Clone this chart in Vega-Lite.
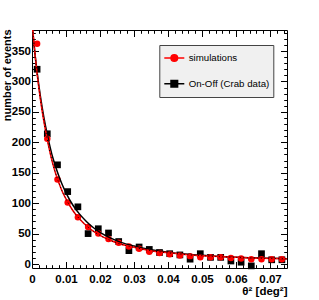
{
  "$schema": "https://vega.github.io/schema/vega-lite/v6.json",
  "width": 255,
  "height": 238,
  "autosize": "none",
  "padding": {"left": 32, "top": 30, "right": 32, "bottom": 32},
  "background": "white",
  "datasets": {
    "onoff": [
      {"x": 0.0015, "y": 320, "series": "On-Off (Crab data)"},
      {"x": 0.0045, "y": 214, "series": "On-Off (Crab data)"},
      {"x": 0.0075, "y": 163, "series": "On-Off (Crab data)"},
      {"x": 0.0105, "y": 119, "series": "On-Off (Crab data)"},
      {"x": 0.0135, "y": 94, "series": "On-Off (Crab data)"},
      {"x": 0.0165, "y": 50, "series": "On-Off (Crab data)"},
      {"x": 0.0195, "y": 58, "series": "On-Off (Crab data)"},
      {"x": 0.0225, "y": 51, "series": "On-Off (Crab data)"},
      {"x": 0.0255, "y": 37, "series": "On-Off (Crab data)"},
      {"x": 0.0285, "y": 22, "series": "On-Off (Crab data)"},
      {"x": 0.0315, "y": 28, "series": "On-Off (Crab data)"},
      {"x": 0.0345, "y": 24, "series": "On-Off (Crab data)"},
      {"x": 0.0375, "y": 19, "series": "On-Off (Crab data)"},
      {"x": 0.0405, "y": 17, "series": "On-Off (Crab data)"},
      {"x": 0.0435, "y": 15, "series": "On-Off (Crab data)"},
      {"x": 0.0465, "y": 8, "series": "On-Off (Crab data)"},
      {"x": 0.0495, "y": 17, "series": "On-Off (Crab data)"},
      {"x": 0.0525, "y": 11, "series": "On-Off (Crab data)"},
      {"x": 0.0555, "y": 11, "series": "On-Off (Crab data)"},
      {"x": 0.0585, "y": 5, "series": "On-Off (Crab data)"},
      {"x": 0.0615, "y": 3, "series": "On-Off (Crab data)"},
      {"x": 0.0645, "y": -3, "series": "On-Off (Crab data)"},
      {"x": 0.0675, "y": 17, "series": "On-Off (Crab data)"},
      {"x": 0.0705, "y": 7, "series": "On-Off (Crab data)"},
      {"x": 0.0735, "y": 7, "series": "On-Off (Crab data)"}
    ],
    "sim": [
      {"x": 0.0015, "y": 362, "series": "simulations"},
      {"x": 0.0045, "y": 206, "series": "simulations"},
      {"x": 0.0075, "y": 139, "series": "simulations"},
      {"x": 0.0105, "y": 101, "series": "simulations"},
      {"x": 0.0135, "y": 77, "series": "simulations"},
      {"x": 0.0165, "y": 61, "series": "simulations"},
      {"x": 0.0195, "y": 50, "series": "simulations"},
      {"x": 0.0225, "y": 41, "series": "simulations"},
      {"x": 0.0255, "y": 35, "series": "simulations"},
      {"x": 0.0285, "y": 29, "series": "simulations"},
      {"x": 0.0315, "y": 25, "series": "simulations"},
      {"x": 0.0345, "y": 20, "series": "simulations"},
      {"x": 0.0375, "y": 18, "series": "simulations"},
      {"x": 0.0405, "y": 16, "series": "simulations"},
      {"x": 0.0435, "y": 14, "series": "simulations"},
      {"x": 0.0465, "y": 13, "series": "simulations"},
      {"x": 0.0495, "y": 11, "series": "simulations"},
      {"x": 0.0525, "y": 11, "series": "simulations"},
      {"x": 0.0555, "y": 11, "series": "simulations"},
      {"x": 0.0585, "y": 10, "series": "simulations"},
      {"x": 0.0615, "y": 9, "series": "simulations"},
      {"x": 0.0645, "y": 8, "series": "simulations"},
      {"x": 0.0675, "y": 8, "series": "simulations"},
      {"x": 0.0705, "y": 8, "series": "simulations"},
      {"x": 0.0735, "y": 8, "series": "simulations"}
    ],
    "fitData": [
      {"x": 0, "y": 395}, {"x": 0.001, "y": 339}, {"x": 0.002, "y": 294}, {"x": 0.003, "y": 257},
      {"x": 0.004, "y": 226}, {"x": 0.005, "y": 200}, {"x": 0.006, "y": 177}, {"x": 0.007, "y": 159},
      {"x": 0.008, "y": 143}, {"x": 0.009, "y": 129}, {"x": 0.010, "y": 117}, {"x": 0.012, "y": 97},
      {"x": 0.014, "y": 82}, {"x": 0.016, "y": 70}, {"x": 0.018, "y": 60}, {"x": 0.020, "y": 52},
      {"x": 0.023, "y": 43}, {"x": 0.026, "y": 36}, {"x": 0.030, "y": 29.6}, {"x": 0.035, "y": 23.6},
      {"x": 0.040, "y": 19.5}, {"x": 0.045, "y": 16.5}, {"x": 0.050, "y": 14.3}, {"x": 0.055, "y": 12.6},
      {"x": 0.060, "y": 11.3}, {"x": 0.065, "y": 10.3}, {"x": 0.070, "y": 9.5}, {"x": 0.075, "y": 8.9}
    ],
    "fitSim": [
      {"x": 0, "y": 398}, {"x": 0.001, "y": 338}, {"x": 0.002, "y": 290}, {"x": 0.003, "y": 251},
      {"x": 0.004, "y": 219}, {"x": 0.005, "y": 191}, {"x": 0.006, "y": 167}, {"x": 0.007, "y": 148},
      {"x": 0.008, "y": 132}, {"x": 0.009, "y": 118}, {"x": 0.010, "y": 107}, {"x": 0.012, "y": 88},
      {"x": 0.014, "y": 74}, {"x": 0.016, "y": 63}, {"x": 0.018, "y": 54}, {"x": 0.020, "y": 47},
      {"x": 0.023, "y": 39}, {"x": 0.026, "y": 33}, {"x": 0.030, "y": 27.5}, {"x": 0.035, "y": 22},
      {"x": 0.040, "y": 18.5}, {"x": 0.045, "y": 15.8}, {"x": 0.050, "y": 13.8}, {"x": 0.055, "y": 12.2},
      {"x": 0.060, "y": 11}, {"x": 0.065, "y": 10}, {"x": 0.070, "y": 9.3}, {"x": 0.075, "y": 8.7}
    ]
  },
  "config": {
    "view": {"stroke": "black", "strokeWidth": 1},
    "axis": {
      "grid": false,
      "domain": false,
      "labelFont": "Liberation Sans",
      "labelFontWeight": "bold",
      "labelFontSize": 11.5,
      "labelColor": "black",
      "tickColor": "black",
      "tickWidth": 1,
      "titleColor": "black",
      "labelFlush": false,
      "labelOverlap": false
    }
  },
  "layer": [
    {
      "data": {"name": "onoff"},
      "mark": {"type": "point", "shape": "square", "filled": true, "size": 45, "opacity": 1},
      "encoding": {
        "x": {
          "field": "x", "type": "quantitative",
          "scale": {"domain": [0, 0.075], "nice": false, "zero": false},
          "axis": {
            "orient": "bottom",
            "values": [0, 0.01, 0.02, 0.03, 0.04, 0.05, 0.06, 0.07],
            "ticks": false,
            "labelPadding": 5,
            "labelExpr": "datum.value == 0 ? '0' : format(datum.value, '.2f')",
            "title": "θ² [deg²]",
            "titleX": 255,
            "titleY": 26,
            "titleAlign": "right",
            "titleBaseline": "alphabetic",
            "titleFont": "Liberation Sans",
            "titleFontSize": 11.5,
            "titleFontWeight": "bold"
          }
        },
        "y": {
          "field": "y", "type": "quantitative",
          "scale": {"domain": [-6.5, 384.5], "nice": false, "zero": false},
          "axis": {
            "orient": "left",
            "values": [0, 50, 100, 150, 200, 250, 300, 350],
            "ticks": false,
            "labelPadding": 1.5,
            "title": "number of events",
            "titleX": -21.5,
            "titleY": -1,
            "titleAngle": 270,
            "titleAlign": "right",
            "titleBaseline": "alphabetic",
            "titleFont": "Liberation Sans",
            "titleFontSize": 11,
            "titleFontWeight": "bold"
          }
        },
        "color": {
          "field": "series", "type": "nominal",
          "scale": {"domain": ["simulations", "On-Off (Crab data)"], "range": ["#ff0000", "#000000"]},
          "legend": {
            "orient": "none",
            "legendX": 127.3,
            "legendY": 15,
            "title": null,
            "fillColor": "#f0f0f0",
            "strokeColor": "#444444",
            "padding": 4,
            "labelFont": "Liberation Sans",
            "labelFontSize": 9.7,
            "labelColor": "black",
            "labelOffset": 3.4,
            "rowPadding": 7.7,
            "clipHeight": 18,
            "symbolSize": 400,
            "symbolStrokeWidth": 1.5,
            "symbolOpacity": 1,
            "encode": {
              "symbols": {
                "update": {
                  "shape": {"signal": "datum.value === 'simulations' ? 'M-1,0H1M0.33,0A0.33,0.33 0 1 1 -0.33,0A0.33,0.33 0 1 1 0.33,0Z' : 'M-1,0H1M-0.33,-0.33H0.33V0.33H-0.33Z'"},
                  "stroke": {"scale": "color", "field": "value"},
                  "strokeWidth": {"value": 1.5}
                }
              }
            }
          }
        }
      }
    },
    {
      "data": {"name": "sim"},
      "mark": {"type": "point", "shape": "circle", "filled": true, "size": 42, "opacity": 1},
      "encoding": {
        "x": {
          "field": "x", "type": "quantitative",
          "axis": {"orient": "bottom", "values": [0.01, 0.02, 0.03, 0.04, 0.05, 0.06, 0.07], "labels": false, "title": null, "tickSize": -6.5}
        },
        "y": {
          "field": "y", "type": "quantitative",
          "axis": {"orient": "left", "values": [0, 50, 100, 150, 200, 250, 300, 350], "labels": false, "title": null, "tickSize": -6.5}
        },
        "color": {
          "field": "series", "type": "nominal",
          "scale": {"domain": ["simulations", "On-Off (Crab data)"], "range": ["#ff0000", "#000000"]}
        }
      }
    },
    {
      "data": {"name": "fitData"},
      "mark": {"type": "line", "color": "black", "strokeWidth": 1.5, "interpolate": "monotone", "clip": true},
      "encoding": {
        "x": {
          "field": "x", "type": "quantitative",
          "axis": {"orient": "bottom", "values": [0.002, 0.004, 0.006, 0.008, 0.012, 0.014, 0.016, 0.018, 0.022, 0.024, 0.026, 0.028, 0.032, 0.034, 0.036, 0.038, 0.042, 0.044, 0.046, 0.048, 0.052, 0.054, 0.056, 0.058, 0.062, 0.064, 0.066, 0.068, 0.072, 0.074], "labels": false, "title": null, "tickSize": -3.3}
        },
        "y": {
          "field": "y", "type": "quantitative",
          "axis": {"orient": "left", "values": [10, 20, 30, 40, 60, 70, 80, 90, 110, 120, 130, 140, 160, 170, 180, 190, 210, 220, 230, 240, 260, 270, 280, 290, 310, 320, 330, 340, 360, 370, 380], "labels": false, "title": null, "tickSize": -3.3}
        }
      }
    },
    {
      "data": {"name": "fitSim"},
      "mark": {"type": "line", "color": "#ff0000", "strokeWidth": 1.5, "interpolate": "monotone", "clip": true},
      "encoding": {
        "x": {
          "field": "x", "type": "quantitative",
          "axis": {"orient": "top", "values": [0.01, 0.02, 0.03, 0.04, 0.05, 0.06, 0.07], "labels": false, "title": null, "tickSize": -6.5}
        },
        "y": {
          "field": "y", "type": "quantitative",
          "axis": {"orient": "right", "values": [0, 50, 100, 150, 200, 250, 300, 350], "labels": false, "title": null, "tickSize": -6.5}
        }
      }
    },
    {
      "data": {"name": "fitSim"},
      "mark": {"type": "line", "color": "black", "strokeWidth": 1, "strokeDash": [1, 2.5], "interpolate": "monotone", "clip": true},
      "encoding": {
        "x": {
          "field": "x", "type": "quantitative",
          "axis": {"orient": "top", "values": [0.002, 0.004, 0.006, 0.008, 0.012, 0.014, 0.016, 0.018, 0.022, 0.024, 0.026, 0.028, 0.032, 0.034, 0.036, 0.038, 0.042, 0.044, 0.046, 0.048, 0.052, 0.054, 0.056, 0.058, 0.062, 0.064, 0.066, 0.068, 0.072, 0.074], "labels": false, "title": null, "tickSize": -3.3}
        },
        "y": {
          "field": "y", "type": "quantitative",
          "axis": {"orient": "right", "values": [10, 20, 30, 40, 60, 70, 80, 90, 110, 120, 130, 140, 160, 170, 180, 190, 210, 220, 230, 240, 260, 270, 280, 290, 310, 320, 330, 340, 360, 370, 380], "labels": false, "title": null, "tickSize": -3.3}
        }
      }
    }
  ],
  "resolve": {"axis": {"x": "independent", "y": "independent"}}
}
